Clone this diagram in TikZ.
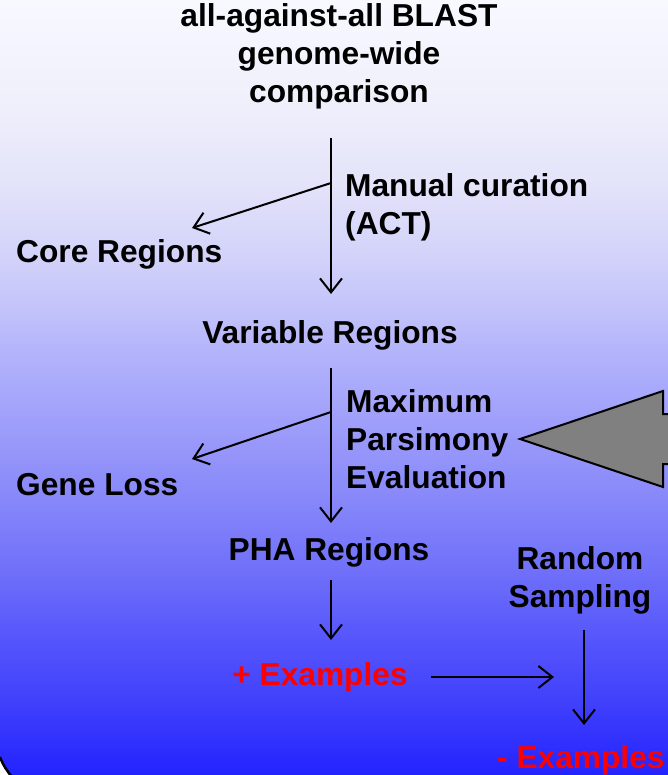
\documentclass[tikz,border=0pt]{standalone}
\usepackage{fontspec}
\setmainfont{Liberation Sans}
\usetikzlibrary{arrows.meta}
\pgfdeclareverticalshading{bgshade}{100bp}{rgb(0bp)=(0.137,0.137,1); rgb(25bp)=(0.137,0.137,1); rgb(29.84bp)=(0.255,0.255,0.988); rgb(33.71bp)=(0.333,0.333,0.988); rgb(37.90bp)=(0.431,0.431,0.98); rgb(42.74bp)=(0.529,0.529,0.98); rgb(45.97bp)=(0.588,0.588,0.98); rgb(50.16bp)=(0.667,0.667,0.988); rgb(52.42bp)=(0.706,0.706,0.988); rgb(55.65bp)=(0.776,0.776,0.98); rgb(58.87bp)=(0.831,0.831,0.98); rgb(63.39bp)=(0.894,0.894,0.98); rgb(68.55bp)=(0.941,0.941,0.988); rgb(75bp)=(0.973,0.973,1); rgb(100bp)=(0.973,0.973,1)}
\definecolor{arrowgray}{RGB}{128,128,128}
\tikzset{
  lbl/.style={font=\bfseries\fontsize{31.7}{38}\selectfont, inner sep=0pt, text=black},
  redlbl/.style={lbl, text=red},
  arr/.style={line width=2pt, -{Straight Barb[length=14pt, width=22pt, line width=2pt]}},
}
\begin{document}
\begin{tikzpicture}[x=1pt,y=-1pt]
\useasboundingbox (0,0) rectangle (668,775);
\shade[shading=bgshade] (0,0) rectangle (668,775);

% texts
\node[lbl, align=center, anchor=north] (title) at (339,3.5) {all-against-all BLAST\\genome-wide\\comparison};
\node[lbl, align=left, anchor=north west] (manual) at (345,173) {Manual curation\\(ACT)};
\node[lbl, anchor=base west] (core) at (16,262) {Core Regions};
\node[lbl, anchor=base] (variable) at (330,343) {Variable Regions};
\node[lbl, align=left, anchor=north west] (mp) at (346,389) {Maximum\\Parsimony\\Evaluation};
\node[lbl, anchor=base west] (gene) at (16,495) {Gene Loss};
\node[lbl, anchor=base] (pha) at (329,560) {PHA Regions};
\node[lbl, align=center, anchor=north] (random) at (580,546) {Random\\Sampling};
\node[redlbl, anchor=base] (pos) at (320,685) {+ Examples};
\node[redlbl, anchor=base west] (neg) at (497,768) {- Examples};

% connector points
\coordinate (v1s) at (331,138);
\coordinate (v1e) at (331,294);
\coordinate (b1s) at (331,183);
\coordinate (b1e) at (192,228);
\coordinate (v2s) at (331,368);
\coordinate (v2e) at (331,523);
\coordinate (b2s) at (331,412);
\coordinate (b2e) at (192,459);
\coordinate (v3s) at (331,580);
\coordinate (v3e) at (331,640);
\coordinate (hs) at (431,677);
\coordinate (he) at (554,677);
\coordinate (v4s) at (584,630);
\coordinate (v4e) at (584,725);

\draw[arr] (v1s) -- (v1e);
\draw[arr] (b1s) -- (b1e);
\draw[arr] (v2s) -- (v2e);
\draw[arr] (b2s) -- (b2e);
\draw[arr] (v3s) -- (v3e);
\draw[arr] (hs) -- (he);
\draw[arr] (v4s) -- (v4e);

% big gray arrow
\draw[line width=2pt, line join=miter, fill=arrowgray] (520,439) -- (663,391) -- (663,414) -- (680,414) -- (680,464) -- (663,464) -- (663,487) -- cycle;

% frame corner
\fill[white] (0,757) .. controls (3,765) and (7,771) .. (12,777) -- (0,777) -- cycle;
\draw[line width=2.5pt] (0,757) .. controls (3,765) and (7,771) .. (12,777);
\end{tikzpicture}
\end{document}
